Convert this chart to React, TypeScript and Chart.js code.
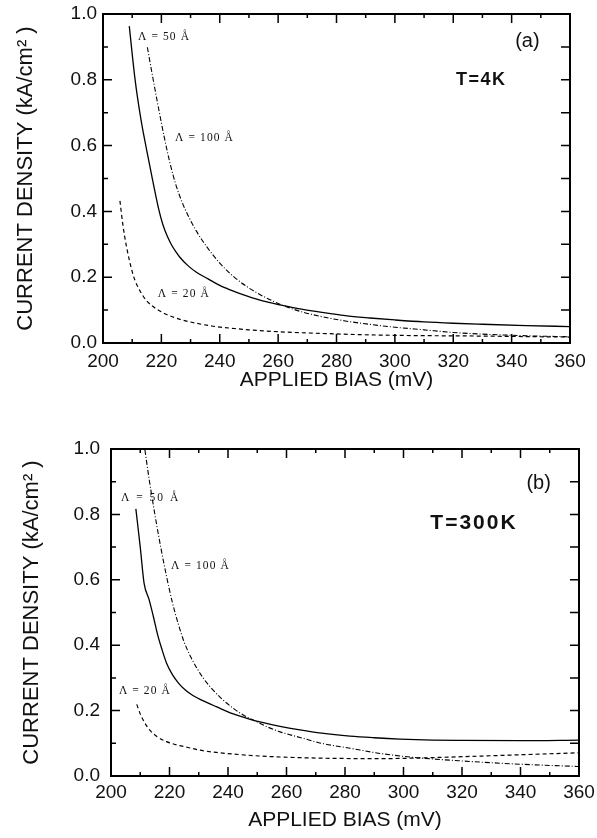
import React, { useEffect, useRef } from "react";
import { Chart, registerables } from "chart.js";

Chart.register(...registerables);

// ---------- Panel (a): T = 4K ----------
const biasA50 = [209, 211, 213, 215, 217, 219, 220.5, 222, 223.5, 225, 226.4, 229, 232, 236, 240, 244, 249.2, 255, 260.6, 268, 275, 283, 291.4, 300, 310, 320, 330, 345, 360];
const jA50 = [0.963, 0.8, 0.68, 0.585, 0.495, 0.41, 0.36, 0.325, 0.298, 0.277, 0.26, 0.236, 0.215, 0.195, 0.175, 0.16, 0.143, 0.127, 0.116, 0.103, 0.093, 0.083, 0.076, 0.07, 0.064, 0.06, 0.057, 0.053, 0.05];

const biasA100 = [215.2, 217, 219, 221, 223, 225, 227, 229, 232, 235.5, 240, 244.6, 249.2, 254, 258.3, 262, 268, 275, 283, 291, 300, 310, 320, 330, 345, 360];
const jA100 = [0.899, 0.81, 0.715, 0.625, 0.545, 0.48, 0.43, 0.39, 0.34, 0.293, 0.243, 0.203, 0.172, 0.146, 0.127, 0.113, 0.095, 0.08, 0.067, 0.057, 0.048, 0.04, 0.032, 0.027, 0.022, 0.019];

const biasA20 = [205.8, 206.8, 207.9, 210.4, 212.7, 215, 218.4, 222, 226.4, 232, 237.7, 245, 250, 260.6, 275, 295, 330, 360];
const jA20 = [0.432, 0.36, 0.3, 0.205, 0.158, 0.128, 0.103, 0.086, 0.072, 0.06, 0.051, 0.044, 0.04, 0.034, 0.029, 0.024, 0.021, 0.018];

// ---------- Panel (b): T = 300K ----------
const biasB50 = [208.5, 210, 211.3, 213, 214.5, 216, 217.5, 219, 221, 223, 225.5, 228, 231, 236, 241.8, 249.8, 257.8, 264.6, 272, 281.7, 290, 298.8, 310, 320, 340, 360];
const jB50 = [0.817, 0.7, 0.59, 0.54, 0.487, 0.43, 0.385, 0.345, 0.31, 0.285, 0.262, 0.246, 0.232, 0.212, 0.19, 0.168, 0.152, 0.141, 0.131, 0.122, 0.117, 0.113, 0.11, 0.109, 0.108, 0.11];

const biasB100 = [211.6, 213, 215, 217, 219, 221, 223, 225, 227.5, 231.5, 235, 238, 241.8, 245.5, 249.8, 253.5, 257.8, 264.6, 272, 281.7, 292, 303.4, 320, 340, 360];
const jB100 = [0.997, 0.91, 0.8, 0.7, 0.61, 0.53, 0.465, 0.41, 0.36, 0.3, 0.262, 0.235, 0.207, 0.185, 0.166, 0.15, 0.135, 0.118, 0.1, 0.085, 0.069, 0.057, 0.046, 0.036, 0.029];

const biasB20 = [208.8, 210, 211.5, 213.5, 216, 219, 222.5, 226, 230.4, 236, 241.8, 253.2, 265, 276, 292, 300, 320, 340, 360];
const jB20 = [0.219, 0.19, 0.163, 0.138, 0.119, 0.105, 0.095, 0.088, 0.079, 0.072, 0.067, 0.06, 0.056, 0.054, 0.053, 0.054, 0.059, 0.065, 0.071];

// ---------- Axes ----------
const xMin = 200;
const xMax = 360;
const xMajorStep = 20;
const xMinorStep = 10;
const yMin = 0;
const yMax = 1;
const yMajorStep = 0.2;
const yMinorStep = 0.1;

const xTitle = "APPLIED BIAS (mV)";
const yTitle = "CURRENT DENSITY (kA/cm² )";

const SANS = '"Liberation Sans", Arial, Helvetica, sans-serif';
const SERIF = '"Liberation Serif", "Times New Roman", serif';

type Note = { text: string; x: number; y: number; font: string; spacing: number; align: CanvasTextAlign };

const notesA: Note[] = [
  { text: "Λ = 50 Å", x: 212, y: 0.93, font: `11.5px ${SERIF}`, spacing: 1.1, align: "left" },
  { text: "Λ = 100 Å", x: 224.7, y: 0.623, font: `11.5px ${SERIF}`, spacing: 1.1, align: "left" },
  { text: "Λ = 20 Å", x: 218.8, y: 0.149, font: `11.5px ${SERIF}`, spacing: 1.1, align: "left" },
  { text: "(a)", x: 345.4, y: 0.915, font: `20px ${SANS}`, spacing: 0, align: "center" },
  { text: "T=4K", x: 329.6, y: 0.8, font: `bold 18px ${SANS}`, spacing: 1.5, align: "center" },
];

const notesB: Note[] = [
  { text: "Λ = 50 Å", x: 203.4, y: 0.85, font: `11.5px ${SERIF}`, spacing: 2, align: "left" },
  { text: "Λ = 100 Å", x: 220.5, y: 0.642, font: `11.5px ${SERIF}`, spacing: 1.1, align: "left" },
  { text: "Λ = 20 Å", x: 202.7, y: 0.26, font: `11.5px ${SERIF}`, spacing: 1.1, align: "left" },
  { text: "(b)", x: 346.2, y: 0.896, font: `20px ${SANS}`, spacing: 0, align: "center" },
  { text: "T=300K", x: 324.1, y: 0.774, font: `bold 21px ${SANS}`, spacing: 2, align: "center" },
];

type Series = { xs: number[]; ys: number[]; dash: number[]; width: number };

const seriesA: Series[] = [
  { xs: biasA50, ys: jA50, dash: [], width: 1.3 },
  { xs: biasA100, ys: jA100, dash: [5, 2, 1, 2], width: 1.1 },
  { xs: biasA20, ys: jA20, dash: [4, 3], width: 1.2 },
];
const seriesB: Series[] = [
  { xs: biasB50, ys: jB50, dash: [], width: 1.3 },
  { xs: biasB100, ys: jB100, dash: [5, 2, 1, 2], width: 1.1 },
  { xs: biasB20, ys: jB20, dash: [4, 3], width: 1.2 },
];

type Layout = {
  height: number;
  padTop: number;
  padRight: number;
  yAxisW: number;
  xAxisH: number;
  xTickPad: number;
  xTitlePad: number;
  yTickPad: number;
  yTitlePad: number;
};

function decoPlugin(notes: Note[]) {
  return {
    id: "frameDeco",
    afterDatasetsDraw(chart: any) {
      const { ctx, chartArea: a, scales } = chart;
      const xs = scales.x;
      const ys = scales.y;
      ctx.save();
      ctx.strokeStyle = "#000";
      ctx.setLineDash([]);
      ctx.lineWidth = 2;
      ctx.strokeRect(a.left, a.top, a.right - a.left, a.bottom - a.top);
      ctx.lineWidth = 1.5;
      ctx.beginPath();
      const nx = Math.round((xMax - xMin) / xMinorStep);
      const xRatio = Math.round(xMajorStep / xMinorStep);
      for (let i = 0; i <= nx; i++) {
        const v = xMin + i * xMinorStep;
        const px = xs.getPixelForValue(v);
        const len = i % xRatio === 0 ? 9 : 4;
        ctx.moveTo(px, a.bottom);
        ctx.lineTo(px, a.bottom - len);
        ctx.moveTo(px, a.top);
        ctx.lineTo(px, a.top + len);
      }
      const ny = Math.round((yMax - yMin) / yMinorStep);
      const yRatio = Math.round(yMajorStep / yMinorStep);
      for (let i = 0; i <= ny; i++) {
        const v = yMin + i * yMinorStep;
        const py = ys.getPixelForValue(v);
        const len = i % yRatio === 0 ? 9 : 5;
        ctx.moveTo(a.left, py);
        ctx.lineTo(a.left + len, py);
        ctx.moveTo(a.right, py);
        ctx.lineTo(a.right - 9, py);
      }
      ctx.stroke();

      ctx.fillStyle = "#111";
      ctx.textBaseline = "middle";
      for (const n of notes) {
        ctx.font = n.font;
        (ctx as any).letterSpacing = `${n.spacing}px`;
        ctx.textAlign = n.align;
        ctx.fillText(n.text, xs.getPixelForValue(n.x), ys.getPixelForValue(n.y));
      }
      (ctx as any).letterSpacing = "0px";
      ctx.restore();
    },
  };
}

function Panel({ top, layout, series, notes }: { top: number; layout: Layout; series: Series[]; notes: Note[] }) {
  const ref = useRef<HTMLCanvasElement | null>(null);
  useEffect(() => {
    const L = layout;
    const chart = new Chart(ref.current as HTMLCanvasElement, {
      type: "line",
      data: {
        datasets: series.map((s) => ({
          data: s.xs.map((x, i) => ({ x, y: s.ys[i] })),
          borderColor: "#000",
          borderWidth: s.width,
          borderDash: s.dash,
          pointRadius: 0,
          fill: false,
          cubicInterpolationMode: "monotone" as const,
        })),
      },
      options: {
        animation: false,
        responsive: false,
        devicePixelRatio: 1,
        layout: { padding: { left: 0, top: L.padTop, right: L.padRight, bottom: 0 } },
        plugins: { legend: { display: false }, tooltip: { enabled: false } },
        elements: { point: { radius: 0 } },
        scales: {
          x: {
            type: "linear",
            position: "bottom",
            min: xMin,
            max: xMax,
            ticks: {
              stepSize: xMajorStep,
              padding: L.xTickPad,
              color: "#111",
              font: { family: SANS, size: 19 },
              maxRotation: 0,
              autoSkip: false,
            },
            grid: { display: false, drawTicks: false },
            border: { display: false },
            title: {
              display: true,
              text: xTitle,
              color: "#111",
              font: { family: SANS, size: 21 },
              padding: { top: 0, bottom: L.xTitlePad },
            },
            afterFit: (s: any) => {
              s.height = L.xAxisH;
              s.paddingLeft = 0;
              s.paddingRight = 0;
            },
          },
          y: {
            type: "linear",
            position: "left",
            min: yMin,
            max: yMax,
            ticks: {
              stepSize: yMajorStep,
              padding: L.yTickPad,
              color: "#111",
              font: { family: SANS, size: 19 },
              callback: (v: any) => Number(v).toFixed(1),
            },
            grid: { display: false, drawTicks: false },
            border: { display: false },
            title: {
              display: true,
              text: yTitle,
              color: "#111",
              font: { family: SANS, size: 22 },
              padding: { top: L.yTitlePad, bottom: 0 },
            },
            afterFit: (s: any) => {
              s.width = L.yAxisW;
              s.paddingTop = 0;
              s.paddingBottom = 0;
            },
          },
        },
      },
      plugins: [decoPlugin(notes)],
    } as any);
    return () => chart.destroy();
  }, []);
  return (
    <div style={{ position: "absolute", left: 0, top, width: 597, height: layout.height }}>
      <canvas ref={ref} width={597} height={layout.height} style={{ display: "block", width: 597, height: layout.height }} />
    </div>
  );
}

const layoutA: Layout = { height: 405, padTop: 14, padRight: 27, yAxisW: 103, xAxisH: 62, xTickPad: 7, xTitlePad: 12, yTickPad: 6, yTitlePad: 12.6 };
const layoutB: Layout = { height: 420, padTop: 31, padRight: 18, yAxisW: 111, xAxisH: 62, xTickPad: 5, xTitlePad: 5, yTickPad: 11, yTitlePad: 19 };

export default function App() {
  return (
    <div style={{ position: "absolute", left: 0, top: 0, width: 597, height: 838, background: "#fff", overflow: "hidden" }}>
      <Panel top={0} layout={layoutA} series={seriesA} notes={notesA} />
      <Panel top={418} layout={layoutB} series={seriesB} notes={notesB} />
    </div>
  );
}
